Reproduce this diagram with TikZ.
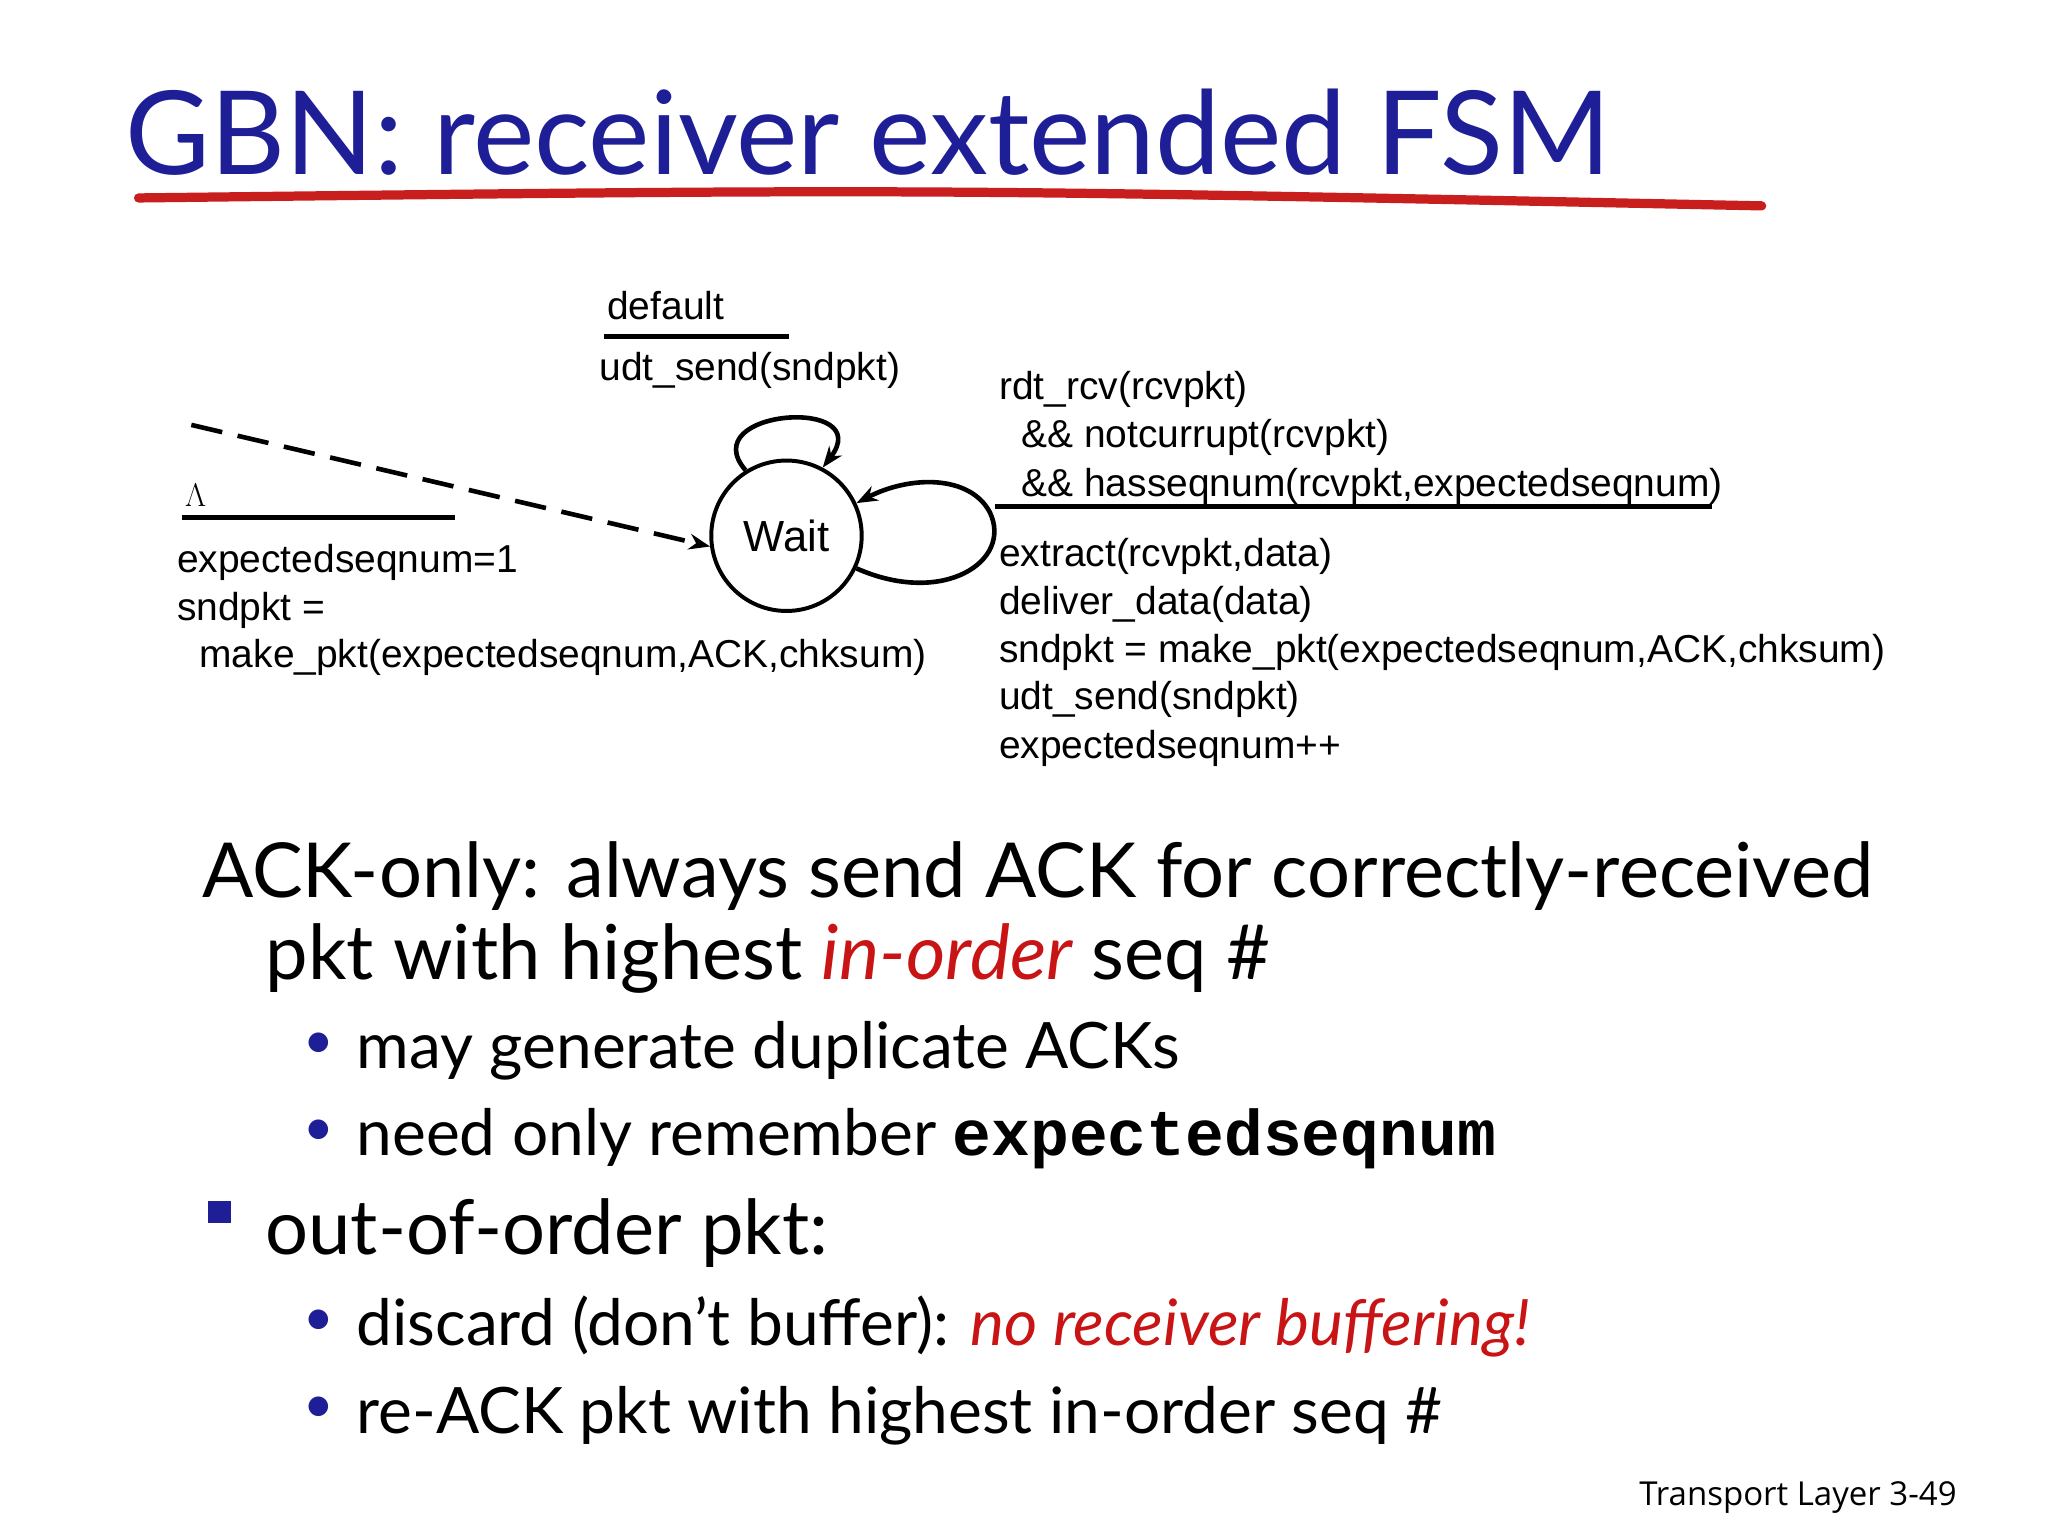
\documentclass[tikz,border=0pt]{standalone}
\usepackage{fontspec}
\setmainfont{Lato}
\newfontfamily\arial{Liberation Sans}
\newfontfamily\mono{Liberation Mono}
\newfontfamily\opensans{Open Sans}
\usetikzlibrary{arrows.meta}
\definecolor{titleblue}{RGB}{30,30,150}
\definecolor{ulred}{RGB}{200,30,30}
\definecolor{itred}{RGB}{200,20,20}
\begin{document}
\begin{tikzpicture}[x=1pt,y=-1pt,
  t/.style={anchor=base west,inner sep=0pt},
  fsm/.style={t,font=\arial\fontsize{29.5}{30}\selectfont},
  big/.style={t,font=\fontsize{57.5}{60}\selectfont},
  med/.style={t,font=\fontsize{48.5}{55}\selectfont},
  dot/.style={t,font=\fontsize{40}{40}\selectfont,text=titleblue},
  bar/.style={line width=4pt},
  arr/.style={line width=3.5pt,-{Stealth[length=16pt,width=12pt]}}]
\useasboundingbox (0,0) rectangle (1552,1164);
\node[t,font=\fontsize{88}{100}\selectfont,text=titleblue] (title) at (95,132) {GBN: receiver extended FSM};
\draw[ulred,line width=7pt,line cap=round] (105,150) .. controls (700,143) .. (1335,156);
% state
\node[draw,circle,line width=3pt,minimum size=114pt,inner sep=0pt,font=\arial\fontsize{33}{34}\selectfont] (wait) at (596,406) {Wait};
% top self loop
\node[fsm] (def) at (460,242) {default};
\draw[bar] (458,255) -- (598,255);
\node[fsm] (udt) at (454,288) {udt\_send(sndpkt)};
\draw[arr] (wait.122) .. controls (525,310) and (665,300) .. (wait.62);
% initial
\coordinate (init) at (145,322);
\draw[arr,dash pattern=on 24pt off 12pt] (init) -- (wait.188);
\node[t,font=\fontsize{34}{34}\selectfont] (lam) at (140,384) {\(\Lambda\)};
\draw[bar] (138,392) -- (345,392);
\node[fsm] (i1) at (134,434) {expectedseqnum=1};
\node[fsm] (i2) at (134,470) {sndpkt =};
\node[fsm] (i3) at (151,506) {make\_pkt(expectedseqnum,ACK,chksum)};
% right self loop
\draw[arr] (wait.-25) .. controls (715,460) and (768,425) .. (750,388) .. controls (735,360) and (690,360) .. (wait.25);
\node[fsm] (r1) at (757,303) {rdt\_rcv(rcvpkt)};
\node[fsm] (r2) at (774,339) {\&\& notcurrupt(rcvpkt)};
\node[fsm] (r3) at (774,376) {\&\& hasseqnum(rcvpkt,expectedseqnum)};
\draw[bar] (754,384) -- (1297,384);
\node[fsm] (a1) at (757,429) {extract(rcvpkt,data)};
\node[fsm] (a2) at (757,466) {deliver\_data(data)};
\node[fsm] (a3) at (757,502) {sndpkt = make\_pkt(expectedseqnum,ACK,chksum)};
\node[fsm] (a4) at (757,538) {udt\_send(sndpkt)};
\node[fsm] (a5) at (757,575) {expectedseqnum++};
% bullets
\node[big] (b1) at (153,680) {ACK-only: always send ACK for correctly-received};
\node[big] (b1b) at (201,742) {pkt with highest \textcolor{itred}{\itshape in-order} seq \#};
\node[dot] (d1) at (230,802) {•};
\node[med] (b2) at (270,810) {may generate duplicate ACKs};
\node[dot] (d2) at (230,868) {•};
\node[med] (b3) at (270,876) {need only remember {\mono\bfseries\fontsize{49}{55}\selectfont expectedseqnum}};
\fill[titleblue] (158,910) rectangle (175,927);
\node[big] (b4) at (201,951) {out-of-order pkt:};
\node[dot] (d3) at (230,1012) {•};
\node[med] (b5) at (270,1020) {discard (don’t buffer): \textcolor{itred}{\itshape no receiver buffering!}};
\node[dot] (d4) at (230,1078) {•};
\node[med] (b6) at (270,1086) {re-ACK pkt with highest in-order seq \#};
\node[anchor=base east,inner sep=0pt,font=\opensans\fontsize{25}{28}\selectfont] (foot) at (1483,1141) {Transport Layer 3-49};
\end{tikzpicture}
\end{document}
